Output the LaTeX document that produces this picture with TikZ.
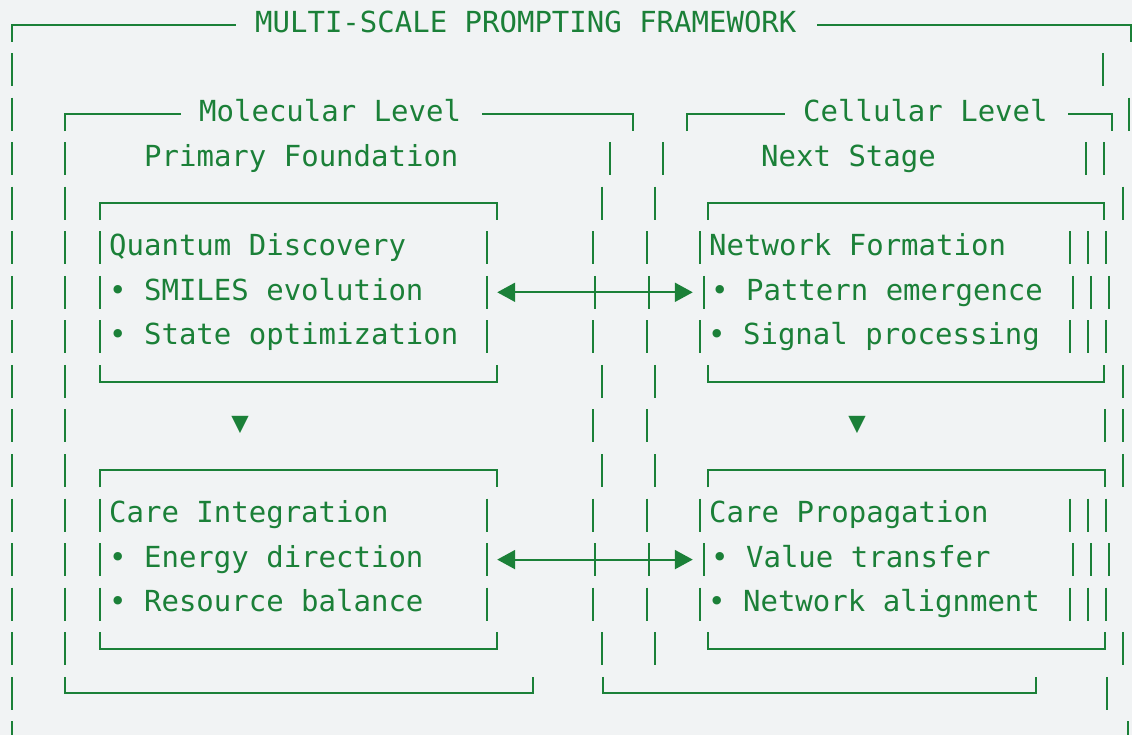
\documentclass[tikz,border=0pt]{standalone}
\usepackage{fontspec}
\usepackage{tikz}
\usetikzlibrary{arrows.meta, positioning}
\newfontfamily\asciifont{DejaVu Sans Mono}
\definecolor{termgreen}{RGB}{27, 128, 56}
\definecolor{panelgray}{RGB}{241, 243, 244}
% middle of text row #1, measured from the top in px
\newcommand{\rowy}[1]{(25+44.55*(#1))}
\tikzset{
    asciiline/.style={draw=termgreen, line width=2.2pt},
    asciibar/.style={asciiline},
    asciitext/.style={font=\asciifont\fontsize{29}{34}\selectfont, text=termgreen, anchor=base west, inner sep=0pt},
    asciibox/.style={draw=none, rectangle, inner sep=0pt},
    downmark/.style={font=\asciifont\fontsize{29}{34}\selectfont, text=termgreen, inner sep=0pt},
    careflow/.style={{Triangle[length=18pt, width=19pt]}-{Triangle[length=18pt, width=19pt]}, draw=termgreen, line width=2.2pt, shorten >=15pt},
}

\begin{document}
\begin{tikzpicture}[x=1pt, y=-1pt]
    \path[use as bounding box, fill=panelgray] (0,0) rectangle (1132,735);

    % Outer frame
    \draw[asciiline] (12,{\rowy{0}+17}) |- (236,{\rowy{0}});
    \draw[asciiline] (817,{\rowy{0}}) -| (1131,{\rowy{0}+17});
    \node[asciitext] (framework) at (255,{\rowy{0}+7.8}) {MULTI-SCALE PROMPTING FRAMEWORK};

    % Molecular level frame
    \draw[asciiline] (65,{\rowy{2}+17}) |- (181,{\rowy{2}});
    \draw[asciiline] (482,{\rowy{2}}) -| (633,{\rowy{2}+17});
    \draw[asciiline] (65,{\rowy{15}-16.5}) |- (533,{\rowy{15}}) -- (533,{\rowy{15}-16.5});
    \node[asciitext] (molecular) at (199,{\rowy{2}+7.8}) {Molecular Level};
    \node[asciitext] (primary) at (144,{\rowy{3}+7.8}) {Primary Foundation};

    % Cellular level frame
    \draw[asciiline] (687,{\rowy{2}+17}) |- (785,{\rowy{2}});
    \draw[asciiline] (1068,{\rowy{2}}) -| (1112,{\rowy{2}+17});
    \draw[asciiline] (603,{\rowy{15}-16.5}) |- (1036,{\rowy{15}}) -- (1036,{\rowy{15}-16.5});
    \node[asciitext] (cellular) at (803,{\rowy{2}+7.8}) {Cellular Level};
    \node[asciitext] (nextstage) at (761,{\rowy{3}+7.8}) {Next Stage};

    % Inner boxes
    \node[asciibox, minimum width=397pt, minimum height=178.2pt] (quantum) at (298.5,{\rowy{6}}) {};
    \node[asciibox, minimum width=396pt, minimum height=178.2pt] (network) at (906,{\rowy{6}}) {};
    \node[asciibox, minimum width=397pt, minimum height=178.2pt] (careint) at (298.5,{\rowy{12}}) {};
    \node[asciibox, minimum width=397pt, minimum height=178.2pt] (carepro) at (906.5,{\rowy{12}}) {};
    \foreach \b in {quantum, network, careint, carepro} {
        \draw[asciiline] ([yshift=-17pt]\b.north west) -- (\b.north west) -- (\b.north east) -- ([yshift=-17pt]\b.north east);
        \draw[asciiline] ([yshift=16.5pt]\b.south west) -- (\b.south west) -- (\b.south east) -- ([yshift=16.5pt]\b.south east);
    }

    % Vertical strokes, row by row
    \foreach \k/\xs in {1/{12,1103}, 2/{12,1129}, 3/{12,65,610,663,1086,1104},
                        4/{12,65,602,655,1123}, 5/{12,65,100,487,593,647,700,1070,1088,1106},
                        6/{12,65,100,487,595,649,704,1073,1091,1109}, 7/{12,65,100,487,593,647,700,1070,1088,1106},
                        8/{12,65,602,655,1123}, 9/{12,65,593,647,1105,1123}, 10/{12,65,602,655,1123},
                        11/{12,65,100,487,593,647,700,1070,1088,1106}, 12/{12,65,100,487,595,649,704,1073,1091,1109},
                        13/{12,65,100,487,593,647,700,1070,1088,1106}, 14/{12,65,602,655,1123},
                        15/{12,1107}, 16/{12,1128}}
        \foreach \x in \xs
            \draw[asciibar] (\x,{\rowy{\k}-16.5}) -- ++(0,33);

    % Box contents
    \node[asciitext] (quantumhead) at (109,{\rowy{5}+7.8}) {Quantum Discovery};
    \node[asciitext] (smiles) at (109,{\rowy{6}+7.8}) {• SMILES evolution};
    \node[asciitext] (stateopt) at (109,{\rowy{7}+7.8}) {• State optimization};
    \node[asciitext] (networkhead) at (709,{\rowy{5}+7.8}) {Network Formation};
    \node[asciitext] (pattern) at (711,{\rowy{6}+7.8}) {• Pattern emergence};
    \node[asciitext] (signal) at (708,{\rowy{7}+7.8}) {• Signal processing};
    \node[asciitext] (carehead) at (109,{\rowy{11}+7.8}) {Care Integration};
    \node[asciitext] (energy) at (109,{\rowy{12}+7.8}) {• Energy direction};
    \node[asciitext] (resource) at (109,{\rowy{13}+7.8}) {• Resource balance};
    \node[asciitext] (prophead) at (709,{\rowy{11}+7.8}) {Care Propagation};
    \node[asciitext] (value) at (711,{\rowy{12}+7.8}) {• Value transfer};
    \node[asciitext] (alignment) at (708,{\rowy{13}+7.8}) {• Network alignment};

    % Down steps
    \node[downmark] (molstep) at (240,{\rowy{9}-1}) {▼};
    \node[downmark] (celstep) at (857,{\rowy{9}-1}) {▼};

    % Links between levels
    \draw[careflow] (quantum.east) -- (network.west);
    \draw[careflow] (careint.east) -- (carepro.west);
\end{tikzpicture}
\end{document}
